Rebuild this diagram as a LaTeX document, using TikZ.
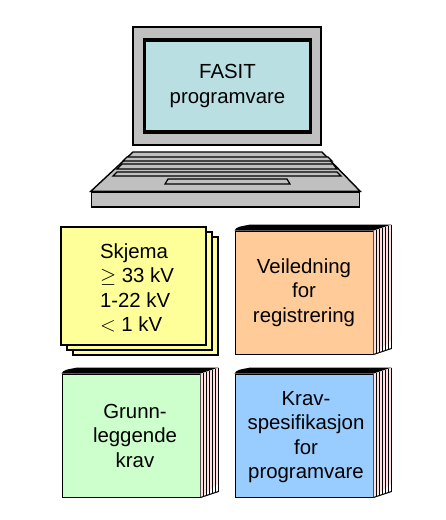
\documentclass[tikz,border=0pt]{standalone}
\usepackage{fontspec}
\setmainfont{Liberation Sans}
\usetikzlibrary{calc}

\definecolor{casegrey}{HTML}{C0C0C0}
\definecolor{screenblue}{HTML}{B9DFE3}
\definecolor{sheetyellow}{HTML}{FFFF99}
\definecolor{bookorange}{HTML}{FFCC99}
\definecolor{bookgreen}{HTML}{CCFFCC}
\definecolor{bookblue}{HTML}{99CCFF}
\definecolor{pagepink}{HTML}{FFE0E0}

\newcommand{\bookpages}[1]{
  \fill[pagepink] (#1.north east) -- ++(18,-6) -- ++(0,116) -- (#1.south east) -- cycle;
  \foreach \i in {1,...,6} {
    \draw[pageline] ($(#1.north east)+(3*\i,-\i)$) -- ($(#1.south east)+(3*\i,-\i)$);
  }
  \draw[pageline] (#1.south east) -- ++(18,-6);
  \fill[black] (#1.north west) .. controls ($(#1.north west)+(2,-4)$) and ($(#1.north west)+(6,-4)$) .. ($(#1.north west)+(16,-6)$) -- ($(#1.north east)+(18,-6)$) -- (#1.north east) -- cycle;
}

\begin{document}
\begin{tikzpicture}[
    x=1pt, y=-1pt,
    font=\fontsize{20.4}{24.5}\selectfont,
    case/.style={draw, line width=1.4pt, fill=casegrey},
    screen/.style={draw, line width=3.6pt, fill=screenblue, minimum width=166pt, minimum height=92pt, align=center},
    keyrow/.style={draw, line width=1.2pt, fill=casegrey},
    sheet/.style={draw, line width=1.6pt, fill=sheetyellow, minimum width=145pt, minimum height=118pt},
    bookface/.style={draw, line width=1pt, minimum width=138pt, minimum height=123pt, align=center, inner sep=0pt},
    pageline/.style={line width=1pt},
    booktext/.style={align=center, inner sep=0pt}
]
% laptop
\node[case, minimum width=188pt, minimum height=118pt] (lid) at (227,86) {};
\node[screen] (display) at (227.5,86) {FASIT\\programvare};
\node[case, minimum width=268pt, minimum height=15pt] (front) at (225.5,199.5) {};
\draw[case] (front.north west) -- (133,152) -- (322,152) -- (front.north east) -- cycle;
\draw[keyrow] (127,157) -- (328,157) -- (332,161) -- (123,161) -- cycle;
\draw[keyrow] (122,164) -- (333,164) -- (337,169) -- (117,169) -- cycle;
\draw[keyrow] (117,172) -- (337,172) -- (341,176) -- (113,176) -- cycle;
\draw[keyrow] (165,184) -- (168,179) -- (287,179) -- (290,184) -- cycle;

% sheets
\node[sheet] (sheetc) at (145.5,296) {};
\node[sheet] (sheetb) at (139.5,291) {};
\node[sheet] (sheeta) at (133.5,286) {};
\node[booktext, align=left] (sheettext) at (137,288) {Skjema\\$\geq$ 33 kV\\1-22 kV\\$<$ 1 kV};

% books
\node[bookface, fill=bookorange] (veiledning) at (304,292.5) {};
\bookpages{veiledning}
\node[booktext] (veiledningtext) at (veiledning.center) {Veiledning\\for\\registrering};

\node[bookface, fill=bookgreen] (grunnkrav) at (131,435.5) {};
\bookpages{grunnkrav}
\node[booktext] (grunnkravtext) at (135,435.5) {Grunn-\\leggende\\krav};

\node[bookface, fill=bookblue] (kravspek) at (304,435.5) {};
\bookpages{kravspek}
\node[booktext] (kravspektext) at (306,437) {Krav-\\spesifikasjon\\for\\programvare};

\useasboundingbox (0,0) rectangle (446,520);
\end{tikzpicture}
\end{document}
